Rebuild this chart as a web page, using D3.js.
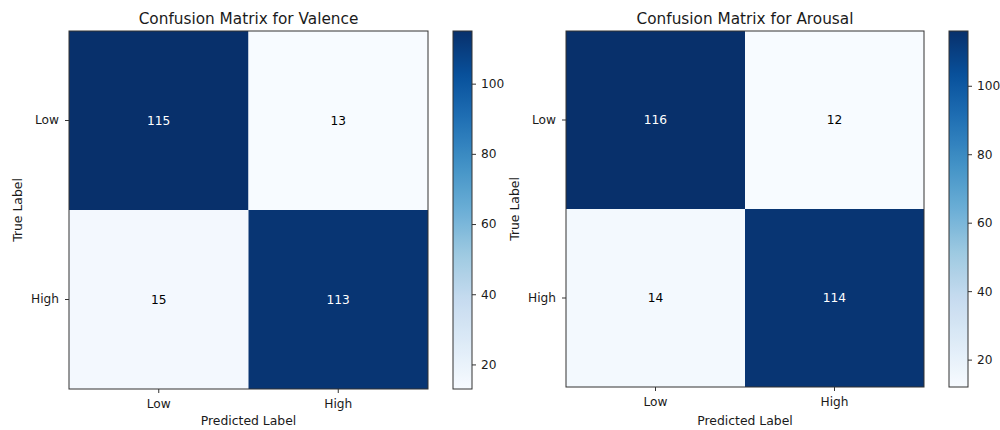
<!DOCTYPE html>
<html>
<head>
<meta charset="utf-8">
<script src="https://cdn.jsdelivr.net/npm/d3@7"></script>
<style>
  html, body { margin: 0; padding: 0; background: #fff; }
  svg { display: block; font-family: "DejaVu Sans", sans-serif; }
</style>
</head>
<body>
<svg id="chart" width="1000" height="430"></svg>
<script>
// Class labels shared by both matrices
const categories = ["Low", "High"];

// Confusion matrices: rows = true label, columns = predicted label
const valenceMatrix = [[115, 13], [15, 113]];
const arousalMatrix = [[116, 12], [14, 114]];

const titles = ["Confusion Matrix for Valence", "Confusion Matrix for Arousal"];
const colorbarTicks = [20, 40, 60, 80, 100];

// Blues colour ramp (9-step), linearly interpolated between stops
const bluesStops = ["#f7fbff", "#deebf7", "#c6dbef", "#9ecae1", "#6baed6",
                    "#4292c6", "#2171b5", "#08519c", "#08306b"];

const panels = [
  { title: titles[0], matrix: valenceMatrix,
    plot: { x0: 69, x1: 428, y0: 31, y1: 389 },
    cbar: { x0: 453, x1: 472, y0: 31, y1: 389 } },
  { title: titles[1], matrix: arousalMatrix,
    plot: { x0: 566, x1: 924, y0: 31, y1: 387 },
    cbar: { x0: 949, x1: 968, y0: 31, y1: 387 } }
];

const svg = d3.select("#chart");
const defs = svg.append("defs");
const textColor = "#1a1a1a";
const frameColor = "#333";
const tickFont = 12.2;
const labelFont = 12.4;
const titleFont = 15.3;

panels.forEach((p, pi) => {
  const flat = p.matrix.flat();
  const vmin = d3.min(flat), vmax = d3.max(flat);
  const color = d3.scaleLinear()
    .domain(bluesStops.map((_, i) => vmin + (vmax - vmin) * i / (bluesStops.length - 1)))
    .range(bluesStops)
    .interpolate(d3.interpolateRgb)
    .clamp(true);

  const x = d3.scaleBand().domain(categories).range([p.plot.x0, p.plot.x1]);
  const y = d3.scaleBand().domain(categories).range([p.plot.y0, p.plot.y1]);

  const g = svg.append("g");

  const cells = [];
  p.matrix.forEach((row, ri) => row.forEach((v, ci) => {
    cells.push({ t: categories[ri], pr: categories[ci], v });
  }));

  g.selectAll("rect.cell").data(cells).join("rect")
    .attr("class", "cell")
    .attr("x", d => x(d.pr))
    .attr("y", d => y(d.t))
    .attr("width", x.bandwidth())
    .attr("height", y.bandwidth())
    .attr("fill", d => color(d.v));

  g.selectAll("text.val").data(cells).join("text")
    .attr("class", "val")
    .attr("x", d => x(d.pr) + x.bandwidth() / 2)
    .attr("y", d => y(d.t) + y.bandwidth() / 2)
    .attr("text-anchor", "middle")
    .attr("dominant-baseline", "central")
    .attr("font-size", tickFont)
    .attr("fill", d => d.v > vmax / 2 ? "#ffffff" : "#000000")
    .text(d => d.v);

  // frame
  g.append("rect")
    .attr("x", p.plot.x0).attr("y", p.plot.y0)
    .attr("width", p.plot.x1 - p.plot.x0).attr("height", p.plot.y1 - p.plot.y0)
    .attr("fill", "none").attr("stroke", frameColor).attr("stroke-width", 1);

  // axes
  const xAxis = d3.axisBottom(x).tickSize(4).tickPadding(6);
  const yAxis = d3.axisLeft(y).tickSize(4).tickPadding(6);
  const gx = g.append("g").attr("transform", `translate(0,${p.plot.y1})`).call(xAxis);
  const gy = g.append("g").attr("transform", `translate(${p.plot.x0},0)`).call(yAxis);
  [gx, gy].forEach(a => {
    a.select(".domain").remove();
    a.selectAll("line").attr("stroke", frameColor);
    a.selectAll("text").attr("font-size", tickFont).attr("fill", textColor)
      .attr("font-family", "DejaVu Sans, sans-serif");
  });

  // titles and axis labels
  const cx = (p.plot.x0 + p.plot.x1) / 2;
  const cy = (p.plot.y0 + p.plot.y1) / 2;
  g.append("text").attr("x", cx).attr("y", 24).attr("text-anchor", "middle")
    .attr("font-size", titleFont).attr("fill", textColor).text(p.title);
  g.append("text").attr("x", cx).attr("y", 425).attr("text-anchor", "middle")
    .attr("font-size", labelFont).attr("fill", textColor).text("Predicted Label");
  g.append("text")
    .attr("transform", `translate(${p.plot.x0 - 47},${cy}) rotate(-90)`)
    .attr("text-anchor", "middle")
    .attr("font-size", labelFont).attr("fill", textColor).text("True Label");

  // colorbar
  const gradId = "cbgrad" + pi;
  const grad = defs.append("linearGradient").attr("id", gradId)
    .attr("x1", 0).attr("y1", 1).attr("x2", 0).attr("y2", 0);
  d3.range(0, 1.0001, 0.02).forEach(t => {
    grad.append("stop").attr("offset", t).attr("stop-color", color(vmin + t * (vmax - vmin)));
  });
  const cscale = d3.scaleLinear().domain([vmin, vmax]).range([p.cbar.y1, p.cbar.y0]);
  g.append("rect")
    .attr("x", p.cbar.x0).attr("y", p.cbar.y0)
    .attr("width", p.cbar.x1 - p.cbar.x0).attr("height", p.cbar.y1 - p.cbar.y0)
    .attr("fill", `url(#${gradId})`)
    .attr("stroke", frameColor).attr("stroke-width", 1);
  const cAxis = d3.axisRight(cscale).tickValues(colorbarTicks).tickSize(4).tickPadding(5);
  const gc = g.append("g").attr("transform", `translate(${p.cbar.x1},0)`).call(cAxis);
  gc.select(".domain").remove();
  gc.selectAll("line").attr("stroke", frameColor);
  gc.selectAll("text").attr("font-size", tickFont).attr("fill", textColor)
    .attr("font-family", "DejaVu Sans, sans-serif");
});
</script>
</body>
</html>
